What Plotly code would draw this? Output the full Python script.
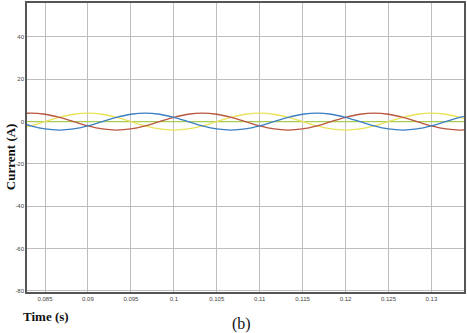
import plotly.graph_objects as go

# Time samples (s)
time_s = [0.08167, 0.08333, 0.08500, 0.08667, 0.08833, 0.09000, 0.09167, 0.09333,
          0.09500, 0.09667, 0.09833, 0.10000, 0.10167, 0.10333, 0.10500, 0.10667,
          0.10833, 0.11000, 0.11167, 0.11333, 0.11500, 0.11667, 0.11833, 0.12000,
          0.12167, 0.12333, 0.12500, 0.12667, 0.12833, 0.13000, 0.13167, 0.13333,
          0.13500]

# Phase currents (A)
phase_yellow = [-3.46, -2, 0, 2, 3.46, 4, 3.46, 2, 0, -2, -3.46, -4,
                -3.46, -2, 0, 2, 3.46, 4, 3.46, 2, 0, -2, -3.46, -4,
                -3.46, -2, 0, 2, 3.46, 4, 3.46, 2, 0]
phase_blue = [0, -2, -3.46, -4, -3.46, -2, 0, 2, 3.46, 4, 3.46, 2,
              0, -2, -3.46, -4, -3.46, -2, 0, 2, 3.46, 4, 3.46, 2,
              0, -2, -3.46, -4, -3.46, -2, 0, 2, 3.46]
phase_red = [3.46, 4, 3.46, 2, 0, -2, -3.46, -4, -3.46, -2, 0, 2,
             3.46, 4, 3.46, 2, 0, -2, -3.46, -4, -3.46, -2, 0, 2,
             3.46, 4, 3.46, 2, 0, -2, -3.46, -4, -3.46]
neutral = [0] * len(time_s)

x_tickvals = [0.085, 0.09, 0.095, 0.1, 0.105, 0.11, 0.115, 0.12, 0.125, 0.13]
x_ticktext = ["0.085", "0.09", "0.095", "0.1", "0.105", "0.11", "0.115", "0.12", "0.125", "0.13"]
y_tickvals = [-80, -60, -40, -20, 0, 20, 40]
y_ticktext = ["-80", "-60", "-40", "-20", "0", "20", "40"]

fig = go.Figure()
fig.add_trace(go.Scatter(x=time_s, y=neutral, mode="lines",
                         line=dict(color="#a8cf52", width=1.3), showlegend=False))
fig.add_trace(go.Scatter(x=time_s, y=phase_yellow, mode="lines",
                         line=dict(color="#e9e25a", width=1.3, shape="spline"), showlegend=False))
fig.add_trace(go.Scatter(x=time_s, y=phase_red, mode="lines",
                         line=dict(color="#b8553f", width=1.3, shape="spline"), showlegend=False))
fig.add_trace(go.Scatter(x=time_s, y=phase_blue, mode="lines",
                         line=dict(color="#3b7fc2", width=1.3, shape="spline"), showlegend=False))

fig.update_layout(
    width=467, height=333,
    margin=dict(l=27, r=1, t=1, b=41),
    paper_bgcolor="white", plot_bgcolor="white",
    font=dict(family="Liberation Sans", size=6, color="#333333"),
    xaxis=dict(range=[0.0829, 0.1338], tickvals=x_tickvals, ticktext=x_ticktext,
               showgrid=True, gridcolor="#bdbdbd", gridwidth=1,
               showline=True, linecolor="#555555", linewidth=1.5, mirror=True,
               ticks="", zeroline=False, tickfont=dict(size=6, color="#444444")),
    yaxis=dict(range=[-80.5, 56], tickvals=y_tickvals, ticktext=y_ticktext,
               showgrid=True, gridcolor="#bdbdbd", gridwidth=1,
               showline=True, linecolor="#555555", linewidth=1.5, mirror=True,
               ticks="", zeroline=False, tickfont=dict(size=6, color="#444444")),
    annotations=[
        dict(text="<b>Current (A)</b>", xref="paper", yref="paper", x=-0.039, y=0.47,
             xanchor="center", yanchor="middle", textangle=-90, showarrow=False,
             font=dict(family="Liberation Serif", size=13, color="#111111")),
        dict(text="<b>Time (s)</b>", xref="paper", yref="paper", x=0.043, y=-0.086,
             xanchor="center", yanchor="middle", showarrow=False,
             font=dict(family="Liberation Serif", size=13, color="#111111")),
        dict(text="(b)", xref="paper", yref="paper", x=0.49, y=-0.11,
             xanchor="center", yanchor="middle", showarrow=False,
             font=dict(family="Liberation Serif", size=16, color="#111111")),
    ],
)

fig.write_html("out.html", config={"displayModeBar": False},
               post_script="document.body.style.margin='0';document.body.style.padding='0';")
